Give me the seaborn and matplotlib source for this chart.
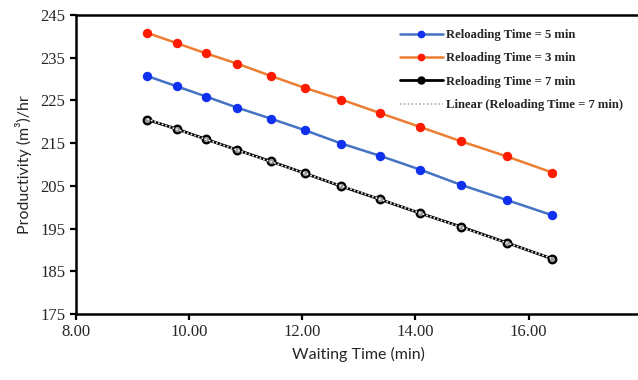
import numpy as np
import pandas as pd
import matplotlib
matplotlib.use("Agg")
import matplotlib.pyplot as plt
import seaborn as sns

waiting_time = [9.26, 9.78, 10.30, 10.85, 11.45, 12.05, 12.69, 13.38, 14.08, 14.81, 15.61, 16.42]
prod_5min = [230.7, 228.3, 225.9, 223.3, 220.7, 218.0, 214.9, 212.0, 208.8, 205.2, 201.7, 198.1]
prod_3min = [240.8, 238.4, 236.0, 233.6, 230.7, 227.9, 225.2, 222.0, 218.8, 215.4, 211.9, 208.1]
prod_7min = [220.5, 218.3, 215.9, 213.4, 210.7, 207.9, 204.9, 201.8, 198.6, 195.4, 191.7, 187.9]
x_ticks = [8, 10, 12, 14, 16]
y_ticks = [175, 185, 195, 205, 215, 225, 235, 245]

sns.set_style("ticks")
plt.rcParams['font.family'] = ['Liberation Serif', 'DejaVu Sans']

df = pd.DataFrame({"wt": waiting_time, "r5": prod_5min, "r3": prod_3min, "r7": prod_7min})

fig = plt.figure(figsize=(6.38, 3.8), dpi=100)
ax = fig.add_axes([0.119, 0.1737, 0.887, 0.787])

sns.lineplot(data=df, x="wt", y="r5", ax=ax, color="#4472C4", linewidth=1.8,
             marker="o", markersize=6, markerfacecolor="#1030F0", markeredgecolor="#1030F0",
             label="Reloading Time = 5 min")
sns.lineplot(data=df, x="wt", y="r3", ax=ax, color="#ED7D31", linewidth=1.8,
             marker="o", markersize=6, markerfacecolor="#FF1A00", markeredgecolor="#FF1A00",
             label="Reloading Time = 3 min")
sns.lineplot(data=df, x="wt", y="r7", ax=ax, color="black", linewidth=2.0,
             marker="o", markersize=5.5, markerfacecolor="#999999", markeredgecolor="black",
             markeredgewidth=1.6, label="Reloading Time = 7 min")

coef = np.polyfit(waiting_time, prod_7min, 1)
df["fit7"] = np.polyval(coef, waiting_time)
sns.lineplot(data=df, x="wt", y="fit7", ax=ax, color="#F2F2F2", linewidth=1.2,
             linestyle=(0, (1, 1.3)), label="Linear (Reloading Time = 7 min)")

ax.set_xlim(8, 18)
ax.set_ylim(175, 245)
ax.set_xticks(x_ticks)
ax.set_xticklabels([f"{v:.2f}" for v in x_ticks])
ax.set_yticks(y_ticks)
ax.tick_params(axis="both", labelsize=12, width=1.6, length=4, direction="out", color="black")
for s in ax.spines.values():
    s.set_linewidth(1.8)
    s.set_color("black")

ax.set_xlabel("Waiting Time (min)", fontsize=11.5, family=["Lato", "DejaVu Sans"], labelpad=5)
ax.set_ylabel("Productivity (m³)/hr", fontsize=11.5, family=["Lato", "DejaVu Sans"], labelpad=6)

leg = ax.legend(loc="upper left", bbox_to_anchor=(0.563, 0.97), frameon=False,
                prop={"family": "Liberation Serif", "weight": "bold", "size": 9.1},
                handlelength=3.4, handletextpad=0.3, labelspacing=0.9, borderaxespad=0,
                markerscale=0.8)
lines = leg.get_lines()
lines[2].set_markerfacecolor("black")
lines[3].set_color("#AAAAAA")

fig.savefig("out.png", dpi=100)
